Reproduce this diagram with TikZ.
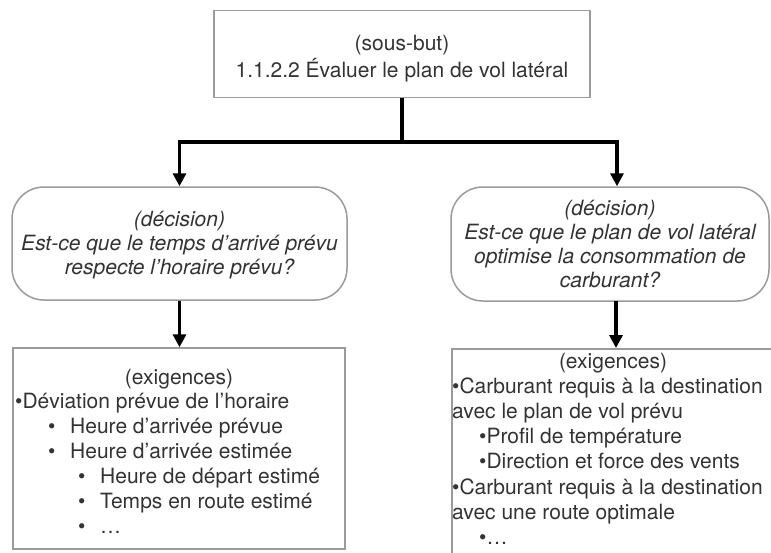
\documentclass[tikz,border=0pt]{standalone}
\usepackage{fontspec}
\setmainfont{TeX Gyre Heros}
\usetikzlibrary{arrows.meta}
\definecolor{txtc}{HTML}{333333}
\definecolor{edgec}{HTML}{9B9B9B}
\tikzset{
  lbl/.style={font=\fontsize{21}{24}\selectfont, text=txtc, inner sep=0pt},
  sqbox/.style={draw=edgec, line width=1.5pt, rectangle, inner sep=0pt},
  decbox/.style={draw=edgec, line width=1.5pt, rounded corners=32pt, align=center, inner sep=0pt,
     text=txtc, font=\fontsize{21}{24}\selectfont\itshape},
  arr/.style={line width=3.2pt, -{Triangle[width=13pt,length=13pt]}},
  ln/.style={lbl, anchor=base west},
}
\begin{document}
\begin{tikzpicture}[x=1pt,y=-1pt]
\path[use as bounding box, clip] (0,0) rectangle (771,552);
\fill[white] (0,0) rectangle (771,552);

% top box
\node[sqbox, lbl, align=center, minimum width=376pt, minimum height=87pt,
      font=\fontsize{21}{27}\selectfont] (goal) at (402,54)
  {\rule{0pt}{24pt}(sous-but)\\1.1.2.2 Évaluer le plan de vol latéral};

% decision boxes
\node[decbox, minimum width=335pt, minimum height=113pt] (dl) at (179.5,243.5)
  {\rule{0pt}{19pt}(décision)\\Est-ce que le temps d’arrivé prévu\\respecte l’horaire prévu?};
\node[decbox, minimum width=318pt, minimum height=114pt] (dr) at (610,244)
  {(décision)\\Est-ce que le plan de vol latéral\\optimise la consommation de\\carburant?};

% requirement boxes
\node[sqbox, minimum width=332pt, minimum height=201pt] (el) at (179,448.5) {};
\node[sqbox, minimum width=349pt, minimum height=252pt, anchor=north west] (er) at (451,348) {};

% left requirements text
\node[lbl, anchor=base] (elh) at (179,384) {(exigences)};
\node[ln] (el1) at (15,408) {•Déviation prévue de l’horaire};
\node[ln] (el2) at (48,433) {\makebox[22pt][l]{•}Heure d’arrivée prévue};
\node[ln] (el3) at (48,458) {\makebox[22pt][l]{•}Heure d’arrivée estimée};
\node[ln] (el4) at (78,483) {\makebox[22pt][l]{•}Heure de départ estimé};
\node[ln] (el5) at (78,508) {\makebox[22pt][l]{•}Temps en route estimé};
\node[ln] (el6) at (78,533) {\makebox[22pt][l]{•}…};

% right requirements text
\node[lbl, anchor=base] (erh) at (613,368) {(exigences)};
\node[ln] (er1) at (452,393) {•Carburant requis à la destination};
\node[ln] (er2) at (452,418.3) {avec le plan de vol prévu};
\node[ln] (er3) at (479,443.6) {•Profil de température};
\node[ln] (er4) at (479,468.9) {•Direction et force des vents};
\node[ln] (er5) at (452,494.2) {•Carburant requis à la destination};
\node[ln] (er6) at (452,519.5) {avec une route optimale};
\node[ln] (er7) at (479,544.8) {•…};

% connectors
\coordinate (jc) at (402,142);
\coordinate (jr) at (617,142);
\draw[line width=3.2pt] (goal.south) -- (jc);
\draw[arr] (jc) -| (dl.north);
\draw[arr] (jc) -- (jr) -- (jr |- dr.north);
\draw[arr] (dl.south) -- (dl.south |- el.north);
\coordinate (drs) at (616,301);
\draw[arr] (drs) -- (drs |- er.north);
\end{tikzpicture}
\end{document}
